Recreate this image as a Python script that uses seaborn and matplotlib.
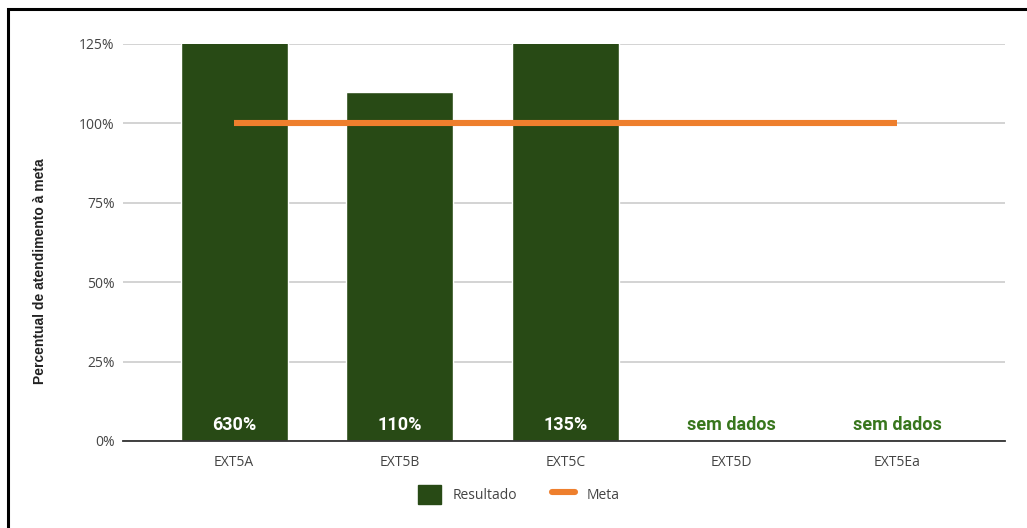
import numpy as np
import pandas as pd
import matplotlib
matplotlib.use('Agg')
import matplotlib.pyplot as plt
import seaborn as sns
from matplotlib.patches import Rectangle
from matplotlib.lines import Line2D
from matplotlib.patches import Patch

# data
categories = ['EXT5A', 'EXT5B', 'EXT5C', 'EXT5D', 'EXT5Ea']
resultado = [6.30, 1.10, 1.35, np.nan, np.nan]
meta = [1.0, 1.0, 1.0, 1.0, 1.0]
yticks = [0, 0.25, 0.50, 0.75, 1.00, 1.25]

BAR_COLOR = '#284a15'
META_COLOR = '#ee7f2d'
NODATA_COLOR = '#38761d'

sns.set_theme(style='white')
plt.rcParams['font.family'] = ['Open Sans', 'DejaVu Sans']

df = pd.DataFrame({'categoria': categories, 'resultado': resultado, 'meta': meta})

fig = plt.figure(figsize=(10.27, 5.28), dpi=100)
ax = fig.add_axes([0.1198, 0.1648, 0.8589, 0.7519])

sns.barplot(data=df, x='categoria', y='resultado', color=BAR_COLOR, width=0.645,
            saturation=1, ax=ax, zorder=2)
xs = np.arange(len(categories))
ax.plot(xs, df['meta'], color=META_COLOR, lw=4.4, solid_capstyle='butt', zorder=3)

ax.set_ylim(0, 1.25)
ax.set_xlim(-0.67, 4.65)
ax.set_yticks(yticks)
ax.set_yticklabels([f'{int(round(v * 100))}%' for v in yticks], color='#444444', fontsize=10)
ax.tick_params(axis='x', colors='#444444', labelsize=10, length=0, pad=10)
ax.tick_params(axis='y', length=0, pad=6)
ax.yaxis.grid(True, color='#cccccc', lw=1.2, zorder=0)
ax.set_axisbelow(True)
for s in ['top', 'right', 'left']:
    ax.spines[s].set_visible(False)
ax.spines['bottom'].set_color('#333333')
ax.spines['bottom'].set_linewidth(1.3)
ax.spines['bottom'].set_zorder(4)

ax.set_xlabel('')
ax.set_ylabel('Percentual de atendimento à meta', fontsize=10, fontweight='bold',
              color='#222222', family=['Liberation Sans', 'DejaVu Sans'])
ax.yaxis.set_label_coords(-0.086, 0.428)

# value labels
for i, v in enumerate(resultado):
    if np.isnan(v):
        ax.text(i, 0.022, 'sem dados', ha='center', va='bottom', color=NODATA_COLOR,
                fontsize=13, fontweight='bold', family=['Roboto', 'DejaVu Sans'], zorder=5)
    else:
        ax.text(i, 0.022, f'{int(round(v * 100))}%', ha='center', va='bottom', color='white',
                fontsize=13, fontweight='bold', family=['Roboto', 'DejaVu Sans'], zorder=5)

handles = [Patch(facecolor=BAR_COLOR, edgecolor=BAR_COLOR, label='Resultado'),
           Line2D([0], [0], color=META_COLOR, lw=4.4, label='Meta')]
fig.legend(handles=handles, loc='center', bbox_to_anchor=(0.505, 0.064), ncol=2,
           frameon=False, fontsize=10, handlelength=1.7, handleheight=1.7,
           columnspacing=2.5, labelcolor='#444444')

# outer frame
fig.patches.append(Rectangle((8 / 1027, -0.1), 1.2, 1.1 - 9 / 528, transform=fig.transFigure,
                             fill=False, edgecolor='black', lw=2.2, zorder=10))

fig.savefig('out.png', dpi=100)
